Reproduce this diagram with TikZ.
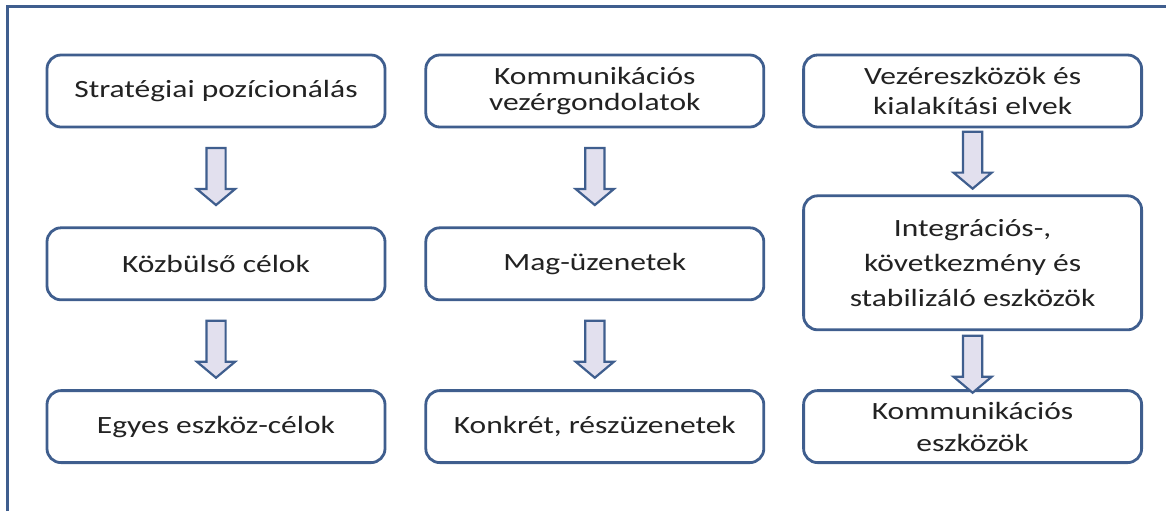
\documentclass[tikz,border=0pt]{standalone}
\usepackage{fontspec}
\setmainfont{Carlito}[FakeStretch=1.27]
\usetikzlibrary{positioning,shapes.arrows}

\definecolor{boxline}{HTML}{3F5E8E}
\definecolor{arrfill}{HTML}{E2E0EE}
\definecolor{textgray}{HTML}{222222}

\begin{document}
\begin{tikzpicture}[
  x=0.5pt, y=-0.5pt,
  every node/.style={font=\fontsize{12.4}{13}\selectfont, text=textgray},
  box/.style={rectangle, rounded corners=7pt, draw=boxline, line width=1.4pt, fill=white, minimum width=169pt, minimum height=36pt, align=center, inner sep=2pt},
  bigbox/.style={box, minimum height=67pt},
  spread/.style={font=\fontsize{12.4}{#1}\selectfont},
  blockarr/.style={single arrow, draw=boxline, fill=arrfill, line width=1.1pt, inner sep=4.25pt, minimum height=28.5pt, single arrow head extend=4.75pt, single arrow tip angle=100, rotate=-90}
]
  \useasboundingbox (0,0) rectangle (1171,511);
  \draw[boxline, line width=1.5pt] (7,511) -- (7,6) -- (1166,6);

  % first column
  \node[box] (strat) at (216,91) {Stratégiai pozícionálás};
  \node[box, below=49pt of strat] (kozb) {Közbülső célok};
  \node[box, below=44pt of kozb] (egyes) {Egyes eszköz-célok};

  % second column
  \node[box, right=19pt of strat] (vezgond) {Kommunikációs\\vezérgondolatok};
  \node[box, below=49pt of vezgond] (mag) {Mag-üzenetek};
  \node[box, below=44pt of mag] (konkret) {Konkrét, részüzenetek};

  % third column
  \node[box, spread=15pt, right=18.5pt of vezgond] (vezesz) {Vezéreszközök és\\kialakítási elvek};
  \node[bigbox, spread=17.5pt, below=33pt of vezesz] (integr) {Integrációs-,\\következmény és\\stabilizáló eszközök};
  \node[box, spread=16pt, below=29pt of integr] (kommesz) {Kommunikációs\\eszközök};

  \path (strat) -- node[blockarr, pos=.45] (a1) {} (kozb);
  \path (kozb) -- node[blockarr] (a2) {} (egyes);
  \path (vezgond) -- node[blockarr, pos=.45] (a3) {} (mag);
  \path (mag) -- node[blockarr] (a4) {} (konkret);
  \path (vezesz) -- node[blockarr, pos=.42] (a5) {} (integr);
  \path (integr) -- node[blockarr] (a6) {} (kommesz);
\end{tikzpicture}
\end{document}
